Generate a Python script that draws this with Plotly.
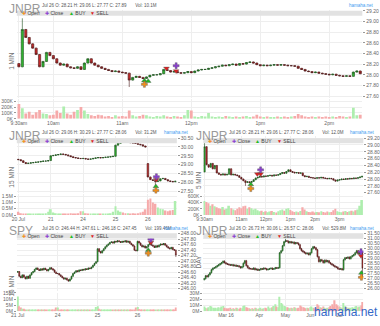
import plotly.graph_objects as go

W, H = 380, 326

# ---------------- DATA ----------------
# Panel 1 : JNPR 1 MIN (sampled)
p1_first_open = 28.21
p1_close = [28.15, 28.85, 28.70, 28.58, 28.50, 28.38, 28.15, 28.25, 28.42, 28.36,
            28.30, 28.22, 28.18, 28.20, 28.15, 28.13, 28.12, 28.15, 28.10, 28.22,
            28.30, 28.22, 28.18, 28.15, 28.12, 28.10, 28.08, 28.06, 28.07, 28.05,
            28.04, 28.03, 27.90, 27.95, 27.97, 27.95, 27.93, 27.96, 27.99, 28.00,
            28.00, 28.02, 28.10, 28.08, 28.05, 28.06, 28.04, 28.03, 28.04, 28.06,
            28.04, 28.07, 28.09, 28.10, 28.10, 28.12, 28.13, 28.15, 28.16, 28.18,
            28.17, 28.19, 28.20, 28.18, 28.21, 28.20, 28.23, 28.24, 28.22, 28.19,
            28.17, 28.18, 28.17, 28.18, 28.19, 28.18, 28.19, 28.18, 28.17, 28.17,
            28.16, 28.12, 28.10, 28.07, 28.06, 28.04, 28.05, 28.03, 28.02, 28.01,
            28.00, 28.01, 27.99, 27.98, 27.97, 27.98, 27.97, 28.05, 28.07, 28.02]
p1_high_fix = {1: 29.06}
p1_low_fix = {32: 27.77}
p1_volume_k = [250, 180, 90, 120, 70, 110, 150, 90, 80, 60,
               70, 140, 100, 210, 90, 70, 120, 150, 200, 140,
               80, 60, 50, 70, 60, 40, 50, 30, 60, 40,
               50, 40, 140, 60, 40, 50, 70, 60, 40, 30,
               50, 40, 60, 40, 30, 50, 40, 30, 60, 150,
               140, 40, 30, 50, 40, 100, 40, 30, 40, 30,
               50, 40, 30, 40, 30, 40, 50, 30, 40, 70,
               40, 30, 40, 30, 30, 40, 30, 40, 30, 40,
               50, 80, 60, 40, 30, 40, 30, 40, 30, 40,
               30, 40, 30, 50, 40, 30, 40, 190, 60, 70]
p1_xticks = [0, 10, 30, 50, 70, 90]
p1_xlabels = ['9:30am', '10am', '11am', '12pm', '1pm', '2pm']
p1_buy = ([36.4, 37.5], [27.89, 27.88])
p1_sell = ([42.8, 45.6], [28.12, 28.07])
p1_open = ([36.4], [27.82])
p1_closem = ([45.6], [28.17])

# Panel 2 : JNPR 15 MIN
p2_first_open = 29.30
p2_close = [29.28, 29.22, 29.12, 29.06, 29.08, 29.10, 29.12, 29.14, 29.15, 29.18, 29.20, 29.20, 29.23,
            29.50, 29.52, 29.55, 29.57, 29.60, 29.58, 29.55, 29.50, 29.45, 29.40, 29.38, 29.35, 29.34,
            29.35, 29.32, 29.30, 29.32, 29.35, 29.38, 29.40, 29.38, 29.40, 29.42, 29.43, 29.45, 29.47,
            30.10, 30.20, 30.28, 30.26, 30.25, 30.27, 30.24, 30.22, 30.20, 30.15, 30.12, 30.05, 30.00,
            28.30, 28.15, 28.10, 28.05, 28.08, 28.20, 28.22, 28.15, 28.08, 28.05, 28.03, 28.06]
p2_open_fix = {52: 29.06}
p2_high_fix = {41: 30.29}
p2_low_fix = {55: 27.77}
p2_volume_m = [0.25, 0.15, 0.12, 0.10, 0.10, 0.08, 0.10, 0.08, 0.10, 0.12, 0.10, 0.15, 0.25,
               0.45, 0.20, 0.15, 0.12, 0.10, 0.10, 0.12, 0.10, 0.15, 0.12, 0.10, 0.15, 0.30,
               0.30, 0.15, 0.12, 0.10, 0.10, 0.08, 0.10, 0.12, 0.10, 0.12, 0.10, 0.15, 0.25,
               0.70, 0.35, 0.25, 0.20, 0.15, 0.15, 0.12, 0.15, 0.12, 0.15, 0.20, 0.25, 0.45,
               1.20, 1.30, 1.00, 0.90, 0.60, 0.50, 0.45, 0.35, 0.30, 0.35, 0.40, 1.10]
p2_xticks = [0, 13, 26, 39, 52]
p2_xlabels = ['20 Jul', '21', '24', '25', '26']
p2_buy = ([55.2], [27.76])
p2_sell = ([55.4], [28.15])
p2_open = ([55.2], [27.54])
p2_closem = ([55.4], [28.32])

# Panel 3 : JNPR 5 MIN
p3_first_open = 28.21
p3_close = [28.95, 28.42, 28.35, 28.46, 28.30, 28.40, 28.18, 28.14, 28.12, 28.15,
            28.12, 28.14, 28.30, 28.12, 28.14, 28.12, 28.10, 28.05, 28.00, 27.95,
            27.90, 27.92, 27.90, 27.93, 27.98, 28.03, 28.05, 28.08, 28.06, 28.09,
            28.08, 28.10, 28.11, 28.09, 28.12, 28.11, 28.13, 28.16, 28.19, 28.17,
            28.22, 28.27, 28.22, 28.20, 28.18, 28.19, 28.17, 28.18, 28.10, 28.07,
            28.08, 28.05, 28.04, 28.03, 28.02, 28.04, 28.03, 28.05, 28.03, 28.02,
            28.01, 28.02, 28.01, 27.97, 27.94, 27.97, 27.98, 28.00, 27.99, 28.01,
            28.00, 28.02, 28.01, 28.03, 28.02, 28.04, 28.06, 28.08]
p3_high_fix = {0: 29.06}
p3_low_fix = {20: 27.80}
p3_volume_k = [450, 420, 380, 300, 350, 280, 250, 220, 200, 260,
               180, 200, 300, 220, 180, 150, 200, 250, 220, 280,
               300, 200, 250, 220, 180, 200, 150, 120, 140, 100,
               120, 90, 110, 130, 100, 80, 120, 150, 180, 140,
               200, 220, 160, 120, 100, 110, 90, 130, 250, 180,
               120, 100, 90, 110, 80, 100, 90, 120, 100, 80,
               110, 90, 100, 150, 200, 120, 100, 90, 110, 130,
               100, 120, 140, 110, 150, 180, 300, 480]
p3_xticks = [0, 18, 30, 42, 54, 66]
p3_xlabels = ['9:30am', '11am', '12pm', '1pm', '2pm', '3pm']
p3_buy = ([22.6], [27.84])
p3_sell = ([25.8, 27.4], [28.15, 28.15])
p3_open = ([22.6], [27.72])
p3_closem = ([27.4], [28.27])

# Panel 4 : SPY 15 MIN
p4_first_open = 246.60
p4_close = [246.62, 246.45, 246.40, 246.50, 246.42, 246.36, 246.45, 246.38, 246.50, 246.58, 246.62, 246.70, 246.75,
            246.70, 246.66, 246.72, 246.68, 246.74, 246.70, 246.65, 246.70, 246.76, 246.72, 246.68, 246.60, 246.55,
            246.55, 246.50, 246.45, 246.40, 246.35, 246.38, 246.32, 246.28, 246.35, 246.45, 246.55, 246.60, 246.65,
            246.62, 246.68, 246.66, 246.70, 246.68, 246.72, 246.70, 246.75, 246.73, 246.78, 246.85, 246.92, 246.98,
            247.45, 247.35, 247.30, 247.38, 247.45, 247.52, 247.58, 247.62, 247.68, 247.70, 247.66, 247.72, 247.70,
            247.74, 247.71, 247.68, 247.72, 247.70, 247.74, 247.69, 247.72, 247.65, 247.60, 247.55, 247.40, 247.38,
            247.72, 247.66, 247.58, 247.52, 247.55, 247.48, 247.52, 247.60, 247.65, 247.58, 247.55, 247.50, 247.56,
            247.52, 247.58, 247.62, 247.60, 247.64, 247.58, 247.52, 247.48, 247.45, 247.50, 247.42, 247.40, 247.22]
p4_high_fix = {}
p4_low_fix = {103: 247.15}
p4_volume_m = [12, 4, 3, 2, 2, 1.5, 1.5, 1, 1.2, 1, 1, 0.8, 1, 0.8, 0.8, 1, 0.8, 0.7, 0.8, 0.9, 1, 0.8, 1, 1.2, 1.5, 3,
               3, 1.5, 1.2, 1, 1, 0.8, 1, 0.8, 0.8, 1, 0.7, 0.8, 0.8, 0.7, 0.8, 0.8, 0.7, 0.8, 0.9, 0.8, 1, 0.8, 1, 1.2, 1.5, 3.5,
               4, 2, 1.5, 1.2, 1, 1, 0.8, 0.8, 1, 0.8, 0.7, 0.8, 0.7, 0.8, 0.8, 0.7, 0.8, 0.7, 0.8, 1, 0.8, 1, 1.2, 1.5, 1.5, 3,
               3.5, 1.8, 1.5, 1.2, 1, 1, 0.8, 0.8, 1, 0.8, 0.8, 0.7, 0.8, 0.7, 0.8, 0.8, 0.8, 0.7, 0.8, 1, 0.8, 1, 1, 1.2, 1.5, 3]
p4_xticks = [0, 26, 52, 78]
p4_xlabels = ['21 Jul', '24', '25', '26']
p4_buy = ([85], [247.40])
p4_sell = ([86.7], [247.68])
p4_open = ([85], [247.29])
p4_closem = ([86.7], [247.80])

# Panel 5 : JNPR DAY
p5_first_open = 26.90
p5_close = [27.00, 27.30, 27.20, 27.40, 27.60, 27.90, 28.05, 28.10, 28.20, 28.30,
            28.40, 28.50, 28.60, 28.75, 28.60, 28.50, 28.45, 28.40, 28.35, 28.40,
            28.30, 28.35, 28.25, 28.30, 28.20, 28.10, 28.20, 28.55, 28.80, 28.30,
            28.10, 28.00, 28.00, 27.95, 28.05, 27.90, 27.95, 27.85, 27.90, 28.00,
            27.95, 28.05, 28.00, 27.90, 27.95, 28.00, 28.05, 27.95, 28.00, 28.10,
            28.05, 28.10, 29.60, 29.80, 30.30, 30.70, 30.80, 30.75, 30.60, 30.70,
            30.60, 30.65, 30.50, 30.60, 30.55, 30.40, 30.00, 29.80, 29.70, 29.60,
            29.50, 29.55, 29.40, 29.60, 30.00, 30.20, 30.10, 29.90, 29.20, 28.70,
            28.90, 28.80, 28.60, 28.85, 28.70, 28.80, 28.60, 28.50, 28.40, 28.30,
            28.20, 28.15, 28.00, 27.95, 28.00, 27.90, 28.90, 29.10, 29.05, 29.15,
            29.00, 29.20, 29.30, 29.40, 29.60, 29.80, 29.50, 29.70, 29.65, 28.06]
p5_high_fix = {56: 31.00}
p5_low_fix = {109: 27.07}
p5_volume_m = [8, 6, 5, 7, 9, 8, 6, 5, 6, 5, 7, 6, 8, 9, 6, 5, 4, 5, 6, 4,
               5, 4, 6, 5, 4, 6, 5, 9, 10, 7, 6, 5, 4, 5, 4, 6, 5, 4, 5, 6,
               4, 5, 6, 5, 8, 5, 6, 7, 9, 12, 8, 7, 25, 14, 12, 9, 8, 7, 6, 5,
               6, 5, 7, 6, 5, 6, 10, 8, 7, 6, 5, 6, 5, 7, 8, 6, 5, 6, 12, 10,
               7, 6, 8, 6, 5, 6, 7, 9, 12, 8, 19, 12, 10, 8, 7, 6, 14, 9, 7, 6,
               5, 6, 7, 6, 8, 9, 7, 8, 10, 16]
p5_xticks = [15, 38, 56, 73, 93]
p5_xlabels = ['Mar 16', 'Apr', 'May', 'Jun', 'Jul']
p5_buy = ([108.3], [27.57])
p5_sell = ([108], [29.30])
p5_open = ([108.3], [27.14])
p5_closem = ([108], [29.70])

headers = ['Jul 26 O: 28.21 H: 29.06 L: 27.77 C: 27.89       Vol: 10.1M',
           'Jul 26 O: 29.06 H: 30.29 L: 27.77 C: 28.06       Vol: 31.2M',
           'Jul 26 O: 28.21 H: 29.06 L: 27.77 C: 28.06       Vol: 12.0M',
           'Jul 26 O: 246.44 H: 247.61 L: 246.18 C: 247.45       Vol: 199.46M',
           'Jul 26 O: 26.73 H: 30.06 L: 26.57 C: 28.06       Vol: 529.8M']
titles = ['JNPR', 'JNPR', 'JNPR', 'SPY', 'JNPR']
frames = ['1 MIN', '15 MIN', '5 MIN', '15 MIN', 'DAY']

# ---------------- STYLE / BUILD ----------------
UP_FILL, DN_FILL = '#2fb52f', '#c42a2a'
UP_EDGE, DN_EDGE = '#1f4f1f', '#4a1a1a'
UP_VOL, DN_VOL = '#aeeeae', '#f6aaaa'
GRID = '#eeeeee'
TXT = '#666666'

fig = go.Figure()
layout = dict(width=W, height=H, margin=dict(l=0, r=0, t=0, b=0),
              paper_bgcolor='white', plot_bgcolor='white', showlegend=False,
              bargap=0.2, boxgap=0.08, font=dict(family='Arial', color=TXT, size=5))
annotations, shapes = [], []


def ohlc(first_open, closes, open_fix, high_fix, low_fix, wick):
    o, h, l = [], [], []
    prev = first_open
    for i, c in enumerate(closes):
        op = open_fix.get(i, prev)
        o.append(op)
        h.append(high_fix.get(i, max(op, c) + wick))
        l.append(low_fix.get(i, min(op, c) - wick))
        prev = c
    return o, h, l


def ax(n):
    return ('x' if n == 1 else f'x{n}', 'y' if n == 1 else f'y{n}',
            'xaxis' if n == 1 else f'xaxis{n}', 'yaxis' if n == 1 else f'yaxis{n}')


def add_panel(k, xpx, pyr, vyr, first_open, closes, open_fix, high_fix, low_fix, wick,
              vols, prange, ptick0, pdtick, vrange, vtv, vtt, xtv, xtt, marks,
              title, header, frame, tf_x, tf_y, legend_y, title_y, hdr_y):
    pa, va = 2 * k - 1, 2 * k
    pxn, pyn, pxk, pyk = ax(pa)
    vxn, vyn, vxk, vyk = ax(va)
    o, h, l = ohlc(first_open, closes, open_fix, high_fix, low_fix, wick)
    xs = list(range(len(closes)))
    xr = [-0.6, len(closes) - 0.4]
    fig.add_trace(go.Candlestick(
        x=xs, open=o, high=h, low=l, close=closes, xaxis=pxn, yaxis=pyn,
        increasing=dict(line=dict(color=UP_EDGE, width=0.6), fillcolor=UP_FILL),
        decreasing=dict(line=dict(color=DN_EDGE, width=0.6), fillcolor=DN_FILL),
        whiskerwidth=0, hoverinfo='skip'))
    cols = [UP_VOL if c >= op else DN_VOL for op, c in zip(o, closes)]
    fig.add_trace(go.Bar(x=xs, y=vols, marker=dict(color=cols, line=dict(width=0)),
                         xaxis=vxn, yaxis=vyn, hoverinfo='skip'))
    for (mx, my), sym, col in zip(marks,
                                  ['triangle-up', 'triangle-down', 'cross', 'cross'],
                                  ['#22bb22', '#dd1f1f', '#f39019', '#8b3fd1']):
        fig.add_trace(go.Scatter(x=mx, y=my, mode='markers', xaxis=pxn, yaxis=pyn,
                                 marker=dict(symbol=sym, size=5, color=col,
                                             line=dict(width=0.4, color='#555')),
                                 hoverinfo='skip'))
    xd = [xpx[0] / W, xpx[1] / W]
    layout[pxk] = dict(domain=xd, anchor=pyn, range=xr, showticklabels=False,
                       tickvals=xtv, showgrid=True, gridcolor=GRID, zeroline=False,
                       rangeslider=dict(visible=False), ticks='')
    layout[pyk] = dict(domain=[1 - pyr[1] / H, 1 - pyr[0] / H], anchor=pxn, side='right',
                       range=prange, tickmode='linear', tick0=ptick0, dtick=pdtick,
                       tickformat='.2f', showgrid=True, gridcolor=GRID, zeroline=False,
                       ticks='outside', ticklen=2, tickcolor='#999',
                       tickfont=dict(size=5, color=TXT))
    layout[vxk] = dict(domain=xd, anchor=vyn, range=xr, tickvals=xtv, ticktext=xtt,
                       showgrid=True, gridcolor=GRID, zeroline=False, ticks='',
                       tickfont=dict(size=5, color=TXT))
    layout[vyk] = dict(domain=[1 - vyr[1] / H, 1 - vyr[0] / H], anchor=vxn, side='left',
                       range=vrange, tickvals=vtv, ticktext=vtt, showgrid=True,
                       gridcolor=GRID, zeroline=False, ticks='outside', ticklen=2,
                       tickcolor='#999', tickfont=dict(size=5, color=TXT))
    # legend bar
    shapes.append(dict(type='rect', xref='paper', yref='paper', layer='above',
                       x0=xpx[0] / W, x1=xpx[1] / W,
                       y0=1 - (legend_y + 2.6) / H, y1=1 - (legend_y - 2.6) / H,
                       fillcolor='#e2e2e2', line=dict(width=0)))
    for g, c, lab, off in [('✚', '#f39019', 'Open', 3), ('✚', '#8b3fd1', 'Close', 27),
                           ('▲', '#22bb22', 'BUY', 51), ('▼', '#dd1f1f', 'SELL', 73)]:
        annotations.append(dict(xref='paper', yref='paper', x=(xpx[0] + off) / W,
                                y=1 - legend_y / H, xanchor='left', yanchor='middle',
                                showarrow=False,
                                text=f'<span style="color:{c}">{g}</span> {lab}',
                                font=dict(size=5, color='#444')))
    annotations.append(dict(xref='paper', yref='paper', x=(xpx[0] - 10) / W,
                            y=1 - title_y / H, xanchor='left', yanchor='top',
                            showarrow=False, text=title, opacity=0.8,
                            font=dict(size=12, color='#808080')))
    annotations.append(dict(xref='paper', yref='paper', x=(xpx[0] + 24) / W,
                            y=1 - hdr_y / H, xanchor='left', yanchor='middle',
                            showarrow=False, text=header,
                            font=dict(size=4.5, color='#555')))
    annotations.append(dict(xref='paper', yref='paper', x=(xpx[1] + 14) / W,
                            y=1 - hdr_y / H, xanchor='right', yanchor='middle',
                            showarrow=False, text='hamaha.net',
                            font=dict(size=4.5, color='#3d9bf0')))
    annotations.append(dict(xref='paper', yref='paper', x=tf_x / W, y=1 - tf_y / H,
                            xanchor='center', yanchor='middle', showarrow=False,
                            textangle=-90, text=frame,
                            font=dict(size=6.5, color='#707070')))


marks1 = [p1_buy, p1_sell, p1_open, p1_closem]
marks2 = [p2_buy, p2_sell, p2_open, p2_closem]
marks3 = [p3_buy, p3_sell, p3_open, p3_closem]
marks4 = [p4_buy, p4_sell, p4_open, p4_closem]
marks5 = [p5_buy, p5_sell, p5_open, p5_closem]

add_panel(1, (10, 362), (7, 97), (98, 118), p1_first_open, p1_close, {}, p1_high_fix,
          p1_low_fix, 0.01, p1_volume_k, [27.56, 29.218], 27.6, 0.2, [0, 333],
          [0, 100, 200, 300], ['0K', '100K', '200K', '300K'], p1_xticks, p1_xlabels,
          marks1, titles[0], headers[0], frames[0], 5, 59, 10.5, -3.5, 3)
add_panel(2, (10, 173), (136, 194), (195, 216), p2_first_open, p2_close, p2_open_fix,
          p2_high_fix, p2_low_fix, 0.02, p2_volume_m, [27.37, 30.59], 27.5, 0.5, [0, 1.63],
          [0, 0.5, 1.0, 1.5], ['0.0M', '0.5M', '1.0M', '1.5M'], p2_xticks, p2_xlabels,
          marks2, titles[1], headers[1], frames[1], 5, 177, 140.3, 126, 132)
add_panel(3, (200, 363), (136, 194), (195, 216), p3_first_open, p3_close, {},
          p3_high_fix, p3_low_fix, 0.012, p3_volume_k, [27.578, 29.249], 27.6, 0.2, [0, 663],
          [0, 200, 400, 600], ['0K', '200K', '400K', '600K'], p3_xticks, p3_xlabels,
          marks3, titles[2], headers[2], frames[2], 195, 180, 140.3, 126, 132)
add_panel(4, (10, 173), (233, 293), (295, 314), p4_first_open, p4_close, {},
          p4_high_fix, p4_low_fix, 0.02, p4_volume_m, [245.93, 248.07], 246.0, 0.2, [0, 15.3],
          [0, 5, 10, 15], ['0M', '5M', '10M', '15M'], p4_xticks, p4_xlabels,
          marks4, titles[3], headers[3], frames[3], 5, 288, 237.3, 223, 230)
add_panel(5, (200, 363), (233, 293), (295, 314), p5_first_open, p5_close, {},
          p5_high_fix, p5_low_fix, 0.08, p5_volume_m, [25.81, 31.70], 26.0, 0.5, [0, 32],
          [0, 10, 20, 30], ['0M', '10M', '20M', '30M'], p5_xticks, p5_xlabels,
          marks5, titles[4], headers[4], frames[4], 195, 263, 237.3, 223, 230)

annotations.append(dict(xref='paper', yref='paper', x=345 / W, y=1 - 315 / H,
                        xanchor='center', yanchor='middle', showarrow=False,
                        text='hamaha.net', font=dict(size=12, color='#3468c8')))

layout['annotations'] = annotations
layout['shapes'] = shapes
fig.update_layout(**layout)
fig.write_html('out.html')
